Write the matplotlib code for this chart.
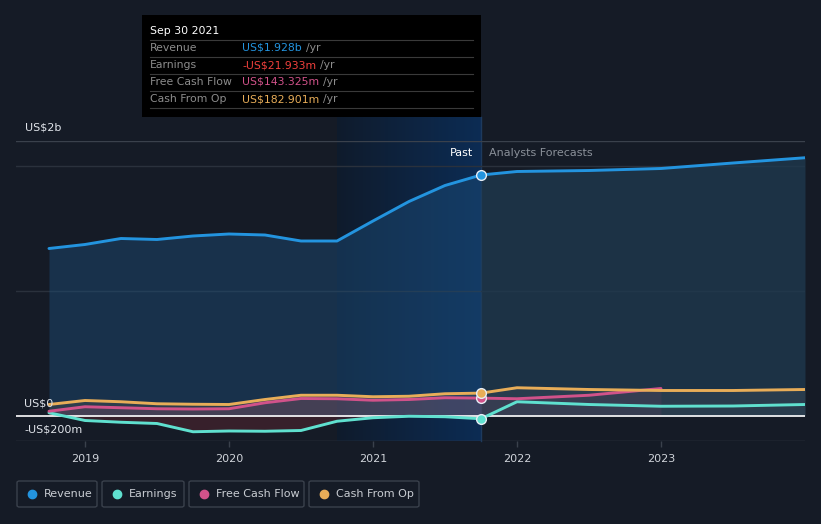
import matplotlib
matplotlib.use("Agg")
import matplotlib.pyplot as plt
import numpy as np
from matplotlib.patches import FancyBboxPatch, Rectangle
import matplotlib.colors as mcolors

# ---------------- data (US$ billions) ----------------
past_t = [2018.75, 2019.0, 2019.25, 2019.5, 2019.75, 2020.0, 2020.25, 2020.5,
          2020.75, 2021.0, 2021.25, 2021.5, 2021.75]
revenue_past = [1.340, 1.372, 1.420, 1.412, 1.440, 1.456, 1.448, 1.400,
                1.400, 1.560, 1.716, 1.844, 1.928]
earnings_past = [0.026, -0.036, -0.050, -0.060, -0.126, -0.120, -0.122, -0.116,
                 -0.042, -0.014, -0.002, -0.006, -0.022]
fcf_past = [0.038, 0.074, 0.066, 0.058, 0.056, 0.058, 0.106, 0.140,
            0.138, 0.126, 0.132, 0.146, 0.143]
cfo_past = [0.092, 0.124, 0.114, 0.098, 0.094, 0.092, 0.132, 0.166,
            0.166, 0.154, 0.158, 0.178, 0.183]

fc_t = [2021.75, 2022.0, 2022.5, 2023.0, 2023.5, 2024.0]
revenue_fc = [1.928, 1.956, 1.964, 1.980, 2.024, 2.066]
earnings_fc = [-0.022, 0.114, 0.092, 0.078, 0.080, 0.092]
fcf_fc_t = [2021.75, 2022.0, 2022.5, 2023.0]
fcf_fc = [0.143, 0.138, 0.166, 0.220]
cfo_fc = [0.183, 0.226, 0.212, 0.204, 0.204, 0.212]

years = [2019, 2020, 2021, 2022, 2023]
series_names = ["Revenue", "Earnings", "Free Cash Flow", "Cash From Op"]
series_colors = ["#2394df", "#5fe0cf", "#d1528a", "#e8ad58"]
tooltip_values = ["US$1.928b", "-US$21.933m", "US$143.325m", "US$182.901m"]
tooltip_colors = ["#2394df", "#f0403c", "#d1528a", "#e8ad58"]

BG = "#151b26"
W, H = 821, 524

fig = plt.figure(figsize=(W / 100, H / 100), dpi=100, facecolor=BG)
L, R, T, B = 16, 805, 141, 441
ax = fig.add_axes([L / W, 1 - B / H, (R - L) / W, (B - T) / H])
ax.set_facecolor(BG)
ax.set_xlim(2018.521, 2024.0)
ax.set_ylim(-0.2, 2.2)
for s in ax.spines.values():
    s.set_visible(False)

# highlight band (last year of past)
grad = np.linspace(0, 1, 256).reshape(1, -1)
cmap = mcolors.LinearSegmentedColormap.from_list("band", ["#0f1b2c", "#0c2c54"])
ax.imshow(grad, extent=[2020.75, 2021.75, -0.2, 2.39], aspect="auto", cmap=cmap,
          zorder=0.5, clip_on=False)
ax.plot([2021.75, 2021.75], [-0.2, 2.39], color="#1d3a5e", lw=1, zorder=0.6,
        clip_on=False)

# grid lines
for yv, c in [(1.0, "#2a313c"), (2.0, "#2a313c"), (2.2, "#3a414c"), (-0.2, "#3a414c")]:
    ax.axhline(yv, color=c, lw=1, zorder=1)

# revenue fills
ax.fill_between(past_t, revenue_past, 0, color="#1d4e7a", alpha=0.45, lw=0, zorder=1.2)
ax.fill_between(fc_t, revenue_fc, 0, color="#1f3a50", alpha=0.75, lw=0, zorder=1.2)

# small series fills
ax.fill_between(past_t, cfo_past, 0, color="#e8ad58", alpha=0.10, lw=0, zorder=1.3)
ax.fill_between(past_t, fcf_past, 0, color="#d1528a", alpha=0.14, lw=0, zorder=1.3)
ax.fill_between(past_t, earnings_past, 0, color="#a0303a", alpha=0.25, lw=0, zorder=1.3)
ax.fill_between(fc_t, cfo_fc, 0, color="#8a8a8a", alpha=0.12, lw=0, zorder=1.3)
ax.fill_between(fcf_fc_t, fcf_fc, 0, color="#d1528a", alpha=0.08, lw=0, zorder=1.3)

ax.axhline(0, color="#ffffff", lw=1.2, zorder=2)

# lines
for t, v, c in [(past_t, revenue_past, series_colors[0]), (fc_t, revenue_fc, series_colors[0]),
                (past_t, earnings_past, series_colors[1]), (fc_t, earnings_fc, series_colors[1]),
                (past_t, fcf_past, series_colors[2]), (fcf_fc_t, fcf_fc, series_colors[2]),
                (past_t, cfo_past, series_colors[3]), (fc_t, cfo_fc, series_colors[3])]:
    ax.plot(t, v, color=c, lw=2.1, solid_capstyle="round", solid_joinstyle="round", zorder=3)

# markers at last past point
for v, c in zip([revenue_past[-1], earnings_past[-1], fcf_past[-1], cfo_past[-1]], series_colors):
    ax.plot([past_t[-1]], [v], "o", ms=7, mfc=c, mec="#e8eef5", mew=1.0, zorder=4)

# ticks
ax.set_xticks(years)
ax.set_xticklabels([str(y) for y in years])
ax.tick_params(axis="x", colors="#3a414c", length=4, width=1, labelcolor="#d0d4da",
               labelsize=8, pad=5)
ax.set_yticks([])

# y labels
fig.text(25 / W, 1 - 128 / H, "US$2b", color="#e0e4ea", fontsize=8, va="center", ha="left")
fig.text(24 / W, 1 - 404 / H, "US$0", color="#e0e4ea", fontsize=8, va="center", ha="left")
fig.text(24 / W, 1 - 430 / H, "-US$200m", color="#e0e4ea", fontsize=8, va="center", ha="left")

fig.text(473 / W, 1 - 153 / H, "Past", color="#ffffff", fontsize=8, va="center", ha="right")
fig.text(489 / W, 1 - 153 / H, "Analysts Forecasts", color="#8a9099", fontsize=8,
         va="center", ha="left")

# tooltip
fig.patches.append(Rectangle((142 / W, 1 - 117 / H), (481 - 142) / W, (117 - 15) / H,
                             transform=fig.transFigure, facecolor="#000000",
                             edgecolor="none", zorder=5))
fig.text(150 / W, 1 - 31 / H, "Sep 30 2021", color="#ffffff", fontsize=7.8,
         va="center", ha="left", zorder=6)
for yl in [40, 57, 74, 91, 108]:
    fig.add_artist(plt.Line2D([150 / W, 473 / W], [1 - yl / H, 1 - yl / H],
                              color="#3a3a3a", lw=0.8, zorder=6))
renderer = fig.canvas.get_renderer()
for i, (name, val, col) in enumerate(zip(series_names, tooltip_values, tooltip_colors)):
    yy = 1 - (48 + 17 * i) / H
    fig.text(150 / W, yy, name, color="#8c8c8c", fontsize=7.8, va="center", ha="left", zorder=6)
    tx = fig.text(242 / W, yy, val, color=col, fontsize=7.8, va="center", ha="left", zorder=6)
    bb = tx.get_window_extent(renderer=renderer)
    fig.text(bb.x1 / W + 4 / W, yy, "/yr", color="#8c8c8c", fontsize=7.8, va="center",
             ha="left", zorder=6)

# legend
boxes = [(17, 97), (102, 184), (189, 304), (309, 419)]
for (x0, x1), name, col in zip(boxes, series_names, series_colors):
    fig.patches.append(FancyBboxPatch((x0 / W, 1 - 507 / H), (x1 - x0) / W, 26 / H,
                                      boxstyle="round,pad=0,rounding_size=0.003",
                                      transform=fig.transFigure, facecolor="none",
                                      edgecolor="#3a414c", lw=1))
    fig.add_artist(plt.Line2D([(x0 + 15) / W], [1 - 494 / H], marker="o", ms=6,
                              color=col, lw=0))
    fig.text((x0 + 27) / W, 1 - 494 / H, name, color="#c8ccd2", fontsize=8,
             va="center", ha="left")

fig.savefig("out.png", dpi=100, facecolor=BG)
